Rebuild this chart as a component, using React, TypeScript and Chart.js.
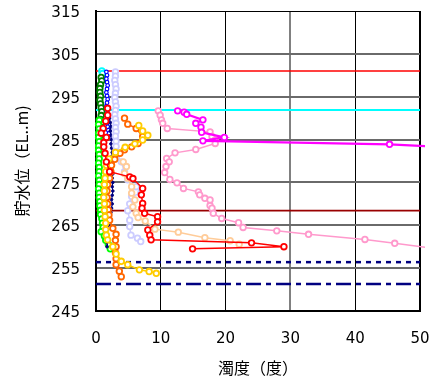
import { useEffect, useRef } from 'react';
import { Chart, registerables } from 'chart.js';

Chart.register(...registerables);

// Axis ranges and ticks
const xRange = [0, 50];
const xStep = 10;
const yRange = [245, 315];
const yStep = 10;
const xTitle = '濁度（度）';
const yTitle = '貯水位（EL..m)';

// Reference levels (elevation, m)
const levelRed = 301.0;
const levelCyan = 291.9;
const levelDarkRed = 268.4;
const levelNavyDash = 256.4;
const levelNavyDashDot = 251.3;

// Profiles: turbidity (x) vs elevation (y)
const darkGreenX = [0.8, 0.9, 0.7, 0.6, 0.6, 0.7, 0.6, 0.7, 0.8, 0.9, 0.8, 0.7, 0.8, 0.7, 0.6, 0.6, 0.7];
const darkGreenY = [299.5, 298.7, 297.8, 296.9, 296.0, 295.1, 294.2, 293.3, 292.4, 291.5, 290.6, 289.7, 288.8, 287.9, 287.0, 286.1, 285.2];

const limeX = [0.5, 0.4, 0.5, 0.4, 0.4, 0.5, 0.4, 0.4, 0.5, 0.5, 0.4, 0.5, 0.5, 0.4, 0.5, 0.5, 0.4, 0.5, 0.5, 0.6, 0.6, 0.7, 0.7, 0.9, 1.0, 1.1, 0.8, 1.3, 1.5, 1.9, 2.2];
const limeY = [289.5, 288.5, 287.5, 286.5, 285.5, 284.5, 283.5, 282.5, 281.5, 280.5, 279.5, 278.5, 277.5, 276.5, 275.5, 274.5, 273.5, 272.5, 271.5, 270.5, 269.5, 268.5, 267.5, 266.5, 265.5, 264.5, 263.5, 262.5, 261.5, 260.5, 259.5];

const blueX = [1.6, 1.7, 1.6, 1.7, 1.8, 1.7, 1.6, 1.7, 1.8, 1.7, 1.6, 1.7, 1.8, 1.9, 1.8, 1.7, 1.8, 1.9, 2.0, 1.9];
const blueY = [300.8, 300.0, 299.2, 298.4, 297.6, 296.8, 296.0, 295.2, 294.4, 293.6, 292.8, 292.0, 291.2, 290.4, 289.6, 288.8, 288.0, 287.2, 286.4, 285.6];

const navyX = [2.1, 2.2, 2.3, 2.2, 2.3, 2.4, 2.3, 2.4, 2.5, 2.4, 2.5, 2.6, 2.5, 2.6, 2.5, 2.6, 2.5, 2.6, 2.5, 2.4, 2.5, 2.4, 2.3, 2.2, 2.0, 1.9, 1.8, 1.7, 1.8, 1.7, 1.7];
const navyY = [290.0, 289.0, 288.0, 287.0, 286.0, 285.0, 284.0, 283.0, 282.0, 281.0, 280.0, 279.0, 278.0, 277.0, 276.0, 275.0, 274.0, 273.0, 272.0, 271.0, 270.0, 269.0, 268.0, 267.0, 266.0, 265.0, 264.0, 263.0, 262.0, 261.0, 260.0];

const cyanX = [0.9, 1.0];
const cyanY = [301.0, 300.4];

const redX = [1.8, 1.8, 1.5, 1.1, 0.8, 1.6, 1.2, 1.2, 1.4, 1.6, 2.1, 5.2, 5.7, 7.2, 7.0, 7.2, 7.1, 7.5, 9.5, 9.5, 8.0, 8.3, 8.5, 24.0, 29.0, 14.9];
const redY = [292.3, 290.7, 289.3, 287.6, 286.5, 285.5, 284.3, 283.3, 281.8, 279.8, 277.5, 276.3, 275.9, 273.6, 272.1, 270.1, 269.0, 267.8, 267.0, 265.8, 263.9, 262.7, 261.6, 260.9, 260.0, 259.5];

const orangeX = [4.4, 4.9, 6.2, 7.2, 6.5, 5.5, 4.4, 3.7, 2.9, 2.4, 2.3, 2.1, 1.8, 1.7, 1.7, 1.8, 1.9, 2.0, 2.1, 2.6, 3.1, 3.0, 3.1, 3.0, 3.1, 3.1, 3.6, 3.9];
const orangeY = [290.0, 288.6, 287.6, 285.7, 284.1, 283.3, 282.6, 281.8, 280.4, 279.0, 277.5, 276.0, 274.5, 273.0, 271.5, 270.0, 268.6, 267.4, 266.2, 264.3, 262.9, 261.5, 260.0, 258.6, 257.2, 255.8, 254.3, 253.0];

const yellowX = [6.6, 7.2, 8.0, 7.2, 6.0, 4.5, 3.0, 2.0, 1.6, 1.5, 1.4, 1.3, 1.3, 1.2, 1.3, 1.3, 1.4, 1.5, 1.5, 1.6, 1.8, 2.6, 3.1, 3.9, 4.9, 6.7, 8.2, 9.3];
const yellowY = [288.3, 287.0, 286.0, 284.9, 284.0, 283.2, 282.0, 280.5, 279.0, 277.5, 276.0, 274.5, 273.0, 271.5, 270.0, 268.5, 267.0, 265.5, 264.0, 262.7, 261.6, 260.0, 258.3, 256.6, 255.8, 254.6, 254.2, 253.8];

const peachX = [4.2, 4.7, 4.4, 4.9, 5.5, 5.5, 6.0, 5.7, 6.2, 6.5, 7.6, 9.1, 12.7, 16.8, 20.7, 22.1];
const peachY = [279.8, 278.7, 277.1, 276.0, 274.0, 272.5, 270.9, 269.3, 267.8, 266.8, 266.0, 264.1, 263.4, 262.1, 261.4, 260.6];

const lavenderX = [3.0, 3.0, 2.9, 3.0, 3.1, 3.0, 2.9, 3.0, 3.1, 3.0, 2.9, 3.0, 3.1, 3.0, 3.1, 3.0, 3.1, 3.1, 3.1, 3.9, 4.4, 4.9, 6.2, 6.9, 5.5, 5.2, 4.9, 5.2, 5.2, 5.4, 6.4, 6.9];
const lavenderY = [300.8, 299.8, 298.8, 297.8, 296.8, 295.8, 294.8, 293.8, 292.8, 291.8, 290.8, 289.8, 288.8, 287.8, 286.8, 285.8, 284.6, 283.4, 282.0, 279.8, 277.5, 275.6, 274.0, 272.5, 271.7, 270.0, 268.4, 266.2, 264.7, 262.7, 262.0, 261.2];

const pinkX = [9.6, 9.9, 10.1, 10.3, 11.0, 17.6, 17.9, 18.4, 18.4, 15.4, 12.2, 10.9, 11.3, 10.8, 10.6, 11.4, 12.5, 13.5, 15.8, 16.0, 16.8, 17.6, 17.6, 17.9, 18.1, 19.4, 22.0, 22.7, 27.9, 32.8, 41.5, 46.1, 56.0];
const pinkY = [291.7, 290.7, 289.6, 288.8, 287.6, 286.8, 285.7, 284.9, 284.1, 282.7, 281.9, 280.6, 279.8, 278.7, 277.3, 275.7, 274.9, 273.6, 272.8, 272.1, 271.3, 270.9, 269.6, 269.0, 267.8, 266.6, 265.6, 264.5, 263.7, 262.9, 261.7, 260.8, 258.8];

const magentaX = [12.6, 13.6, 14.0, 16.5, 15.4, 16.2, 16.3, 19.8, 16.5, 45.3, 60.0];
const magentaY = [291.7, 291.4, 290.9, 289.6, 288.8, 287.9, 286.7, 285.5, 284.7, 283.9, 282.8];

const pts = (xs: number[], ys: number[]) => xs.map((x, i) => ({ x, y: ys[i] }));

function profile(label: string, xs: number[], ys: number[], color: string, extra: any = {}) {
  return {
    label,
    data: pts(xs, ys),
    borderColor: color,
    backgroundColor: '#ffffff',
    pointBackgroundColor: '#ffffff',
    pointBorderColor: color,
    pointRadius: 2.8,
    pointBorderWidth: 1.8,
    borderWidth: 1.5,
    showLine: true,
    clip: 5,
    order: 1,
    ...extra,
  };
}

function level(label: string, y: number, color: string, dash: number[], width: number) {
  return {
    label,
    data: pts(xRange, [y, y]),
    borderColor: color,
    backgroundColor: color,
    borderWidth: width,
    borderDash: dash,
    pointRadius: 0,
    showLine: true,
    clip: 0,
    order: 5,
  };
}

export default function App() {
  const ref = useRef<HTMLCanvasElement | null>(null);

  useEffect(() => {
    if (!ref.current) return;
    const datasets: any[] = [
      profile('magenta', magentaX, magentaY, '#ff00ff', { borderWidth: 2.2 }),
      profile('red', redX, redY, '#ff0000'),
      profile('pink', pinkX, pinkY, '#ff99cc'),
      profile('peach', peachX, peachY, '#ffcc99'),
      profile('yellow', yellowX, yellowY, '#ffcc00'),
      profile('orange', orangeX, orangeY, '#ff6600'),
      profile('lavender', lavenderX, lavenderY, '#ccccff'),
      profile('navy', navyX, navyY, '#000080', { pointRadius: 1.3, pointBorderWidth: 1, pointBackgroundColor: '#000080', borderWidth: 1 }),
      profile('blue', blueX, blueY, '#0000ff', { pointRadius: 1.8, pointBorderWidth: 1.2, borderWidth: 1 }),
      profile('lime', limeX, limeY, '#00ff00'),
      profile('darkgreen', darkGreenX, darkGreenY, '#008000'),
      profile('cyan', cyanX, cyanY, '#00ffff'),
      level('red level', levelRed, '#ff0000', [], 1.6),
      level('cyan level', levelCyan, '#00ffff', [], 2),
      level('darkred level', levelDarkRed, '#990000', [], 1.8),
      level('navy dash', levelNavyDash, '#000080', [5, 5], 2.5),
      level('navy dashdot', levelNavyDashDot, '#000080', [15, 5, 5, 5], 2.5),
    ];

    const chart = new Chart(ref.current, {
      type: 'scatter',
      data: { datasets },
      options: {
        animation: false,
        responsive: false,
        devicePixelRatio: 1,
        layout: { padding: { left: 0, right: 24, top: 11, bottom: 0 } },
        plugins: { legend: { display: false }, tooltip: { enabled: false } },
        scales: {
          x: {
            type: 'linear',
            min: xRange[0],
            max: xRange[1],
            afterFit: (s: any) => { s.height = 74; s.paddingLeft = 0; s.paddingRight = 0; },
            ticks: {
              stepSize: xStep,
              padding: 19,
              color: '#000',
              font: { family: '"DejaVu Sans", sans-serif', size: 15 },
            },
            grid: {
              drawTicks: false,
              color: (c: any) => (c.tick && c.tick.value === 30 ? '#808080' : '#000000'),
              lineWidth: (c: any) => (c.tick && (c.tick.value === 30 || c.tick.value === 50) ? 2 : 1),
            },
            border: { display: true, color: '#000', width: 2 },
            title: {
              display: true,
              text: xTitle,
              color: '#000',
              font: { family: '"Noto Sans CJK JP", sans-serif', size: 16 },
              padding: { top: 0, bottom: 7 },
            },
          },
          y: {
            type: 'linear',
            min: yRange[0],
            max: yRange[1],
            afterFit: (s: any) => { s.width = 96; s.paddingTop = 0; s.paddingBottom = 0; },
            ticks: {
              stepSize: yStep,
              padding: 16,
              color: '#000',
              font: { family: '"DejaVu Sans", sans-serif', size: 15, lineHeight: 0.3 },
              callback: (v: any) => ['', String(v)],
            },
            grid: {
              drawTicks: false,
              color: (c: any) => (c.tick && c.tick.value === yRange[1] ? '#000000' : '#6a6a6a'),
              lineWidth: (c: any) => (c.tick && c.tick.value === yRange[1] ? 1 : 2),
            },
            border: { display: true, color: '#000', width: 2 },
            title: {
              display: true,
              text: yTitle,
              color: '#000',
              font: { family: '"Noto Sans CJK JP", sans-serif', size: 16 },
              padding: { top: 12, bottom: 0 },
            },
          },
        },
      } as any,
    });
    return () => chart.destroy();
  }, []);

  return (
    <div style={{ position: 'absolute', left: 0, top: 0, width: 444, height: 385, background: '#fff' }}>
      <canvas ref={ref} width={444} height={385} style={{ display: 'block', width: 444, height: 385 }} />
    </div>
  );
}
